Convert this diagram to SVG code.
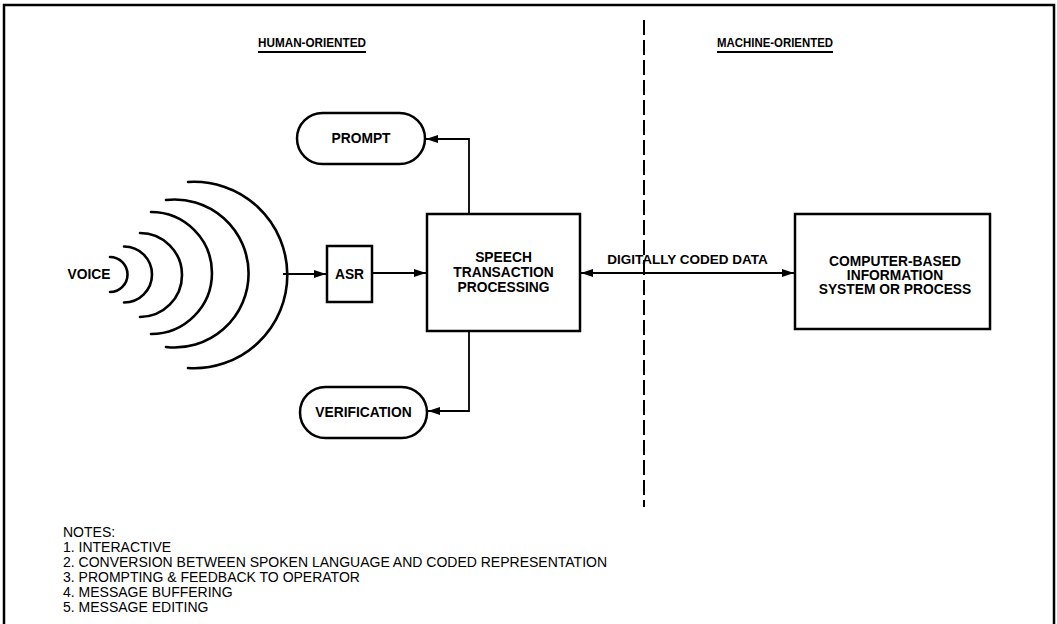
<svg xmlns="http://www.w3.org/2000/svg" width="1057" height="624" viewBox="0 0 1057 624">
<defs>
<marker id="ah" viewBox="0 0 12 8" refX="12" refY="4" markerWidth="12" markerHeight="8" markerUnits="userSpaceOnUse" orient="auto-start-reverse">
<path d="M0,0 L12,4 L0,8 Z" fill="#000"/>
</marker>
</defs>
<style>
.lbl{font-family:"Liberation Sans",Arial,sans-serif;font-weight:bold;font-size:13.8px;fill:#000;text-anchor:middle}
.hd{font-family:"Liberation Sans",Arial,sans-serif;font-weight:bold;font-size:13.5px;fill:#000}
.note{font-family:"Liberation Sans",Arial,sans-serif;font-size:14px;fill:#000}
.box{fill:none;stroke:#000;stroke-width:2.5}
.con{fill:none;stroke:#000;stroke-width:1.8}
.arc{fill:none;stroke:#000;stroke-width:2.6;stroke-linecap:round}
</style>
<rect width="1057" height="624" fill="#fff"/>
<g id="frame">
<path d="M4,624 V5 H1054 V624" fill="none" stroke="#000" stroke-width="2.5"/>
</g>
<g id="headings">
<text class="hd" x="258" y="47" textLength="108" lengthAdjust="spacingAndGlyphs">HUMAN-ORIENTED</text>
<line x1="258" y1="52" x2="366" y2="52" stroke="#000" stroke-width="2"/>
<text class="hd" x="717" y="47" textLength="116" lengthAdjust="spacingAndGlyphs">MACHINE-ORIENTED</text>
<line x1="717" y1="52" x2="833" y2="52" stroke="#000" stroke-width="2"/>
</g>
<g id="divider">
<line x1="644" y1="20" x2="644" y2="507" stroke="#000" stroke-width="2" stroke-dasharray="15,5"/>
</g>
<g id="voice">
<text class="lbl" x="89" y="279">VOICE</text>
<path class="arc" d="M110,257 A17.5,17.5 0 0 1 110,292"/>
<path class="arc" d="M124,246.5 A28,28 0 0 1 124,302.5"/>
<path class="arc" d="M140,233 A42,42 0 0 1 140,317"/>
<path class="arc" d="M151,212 A61,61 0 0 1 151,334"/>
<path class="arc" d="M166,200 A74,74 0 1 1 166,347"/>
<path class="arc" d="M188,182 A93.2,93.2 0 1 1 188,368"/>
</g>
<g id="asr">
<rect class="box" x="327" y="246" width="45" height="56"/>
<text class="lbl" x="349.5" y="279">ASR</text>
</g>
<g id="speech">
<rect class="box" x="427" y="214" width="153" height="117"/>
<text class="lbl" x="503.5" y="262">SPEECH</text>
<text class="lbl" x="503.5" y="277">TRANSACTION</text>
<text class="lbl" x="503.5" y="292">PROCESSING</text>
</g>
<g id="prompt">
<rect class="box" x="297" y="113" width="128" height="51" rx="25.5"/>
<text class="lbl" x="361" y="143">PROMPT</text>
</g>
<g id="verification">
<rect class="box" x="300" y="387" width="127" height="51" rx="25.5"/>
<text class="lbl" x="363.5" y="417">VERIFICATION</text>
</g>
<g id="computer">
<rect class="box" x="795" y="214" width="195" height="115"/>
<text class="lbl" x="895" y="266">COMPUTER-BASED</text>
<text class="lbl" x="895" y="280">INFORMATION</text>
<text class="lbl" x="895" y="294">SYSTEM OR PROCESS</text>
</g>
<g id="connectors">
<line class="con" x1="283" y1="274" x2="326" y2="274" marker-end="url(#ah)"/>
<line class="con" x1="372" y1="273" x2="426" y2="273" marker-end="url(#ah)"/>
<path class="con" d="M469,214 V139 H426" marker-end="url(#ah)"/>
<path class="con" d="M469,331 V411 H428" marker-end="url(#ah)"/>
<line class="con" x1="581" y1="273" x2="794" y2="273" marker-start="url(#ah)" marker-end="url(#ah)"/>
<text class="lbl" x="687.5" y="264" style="font-size:13.5px">DIGITALLY CODED DATA</text>
</g>
<g id="notes">
<text class="note" x="63" y="537">NOTES:</text>
<text class="note" x="63" y="552">1. INTERACTIVE</text>
<text class="note" x="63" y="567">2. CONVERSION BETWEEN SPOKEN LANGUAGE AND CODED REPRESENTATION</text>
<text class="note" x="63" y="582">3. PROMPTING &amp; FEEDBACK TO OPERATOR</text>
<text class="note" x="63" y="597">4. MESSAGE BUFFERING</text>
<text class="note" x="63" y="612">5. MESSAGE EDITING</text>
</g>
</svg>
